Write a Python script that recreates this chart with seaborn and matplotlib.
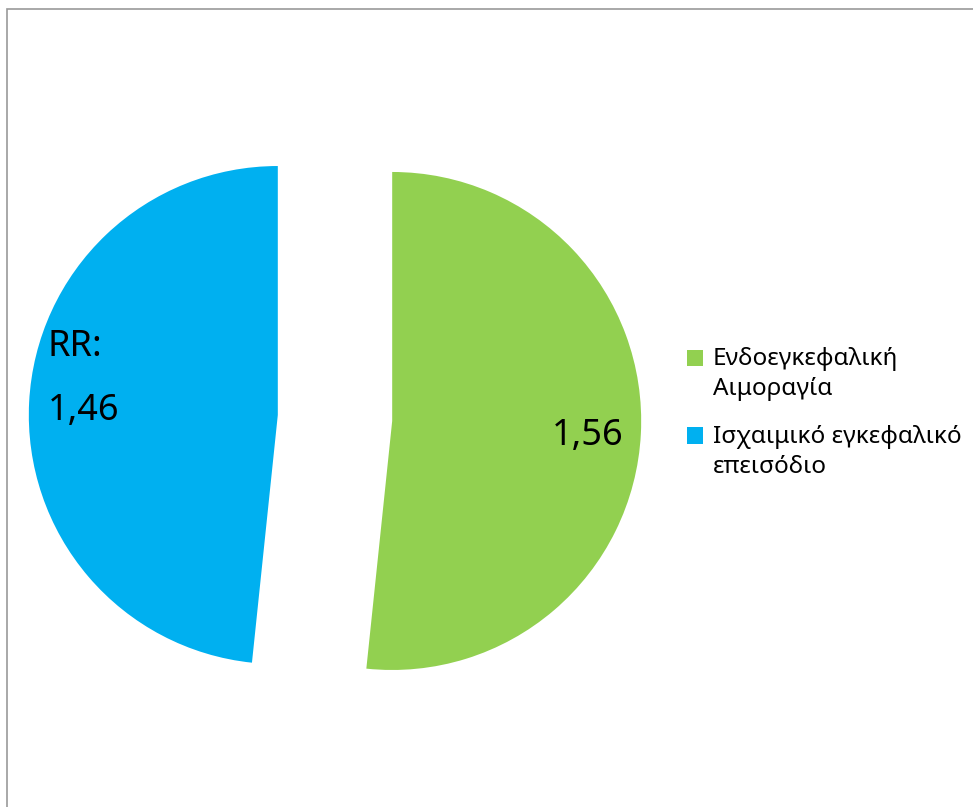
import matplotlib
matplotlib.use("Agg")
import matplotlib.pyplot as plt
from matplotlib.patches import Patch, Rectangle
from matplotlib.legend_handler import HandlerPatch
import seaborn as sns

# data
categories = ["Ενδοεγκεφαλική\nΑιμοραγία", "Ισχαιμικό εγκεφαλικό\nεπεισόδιο"]
rr_values = [1.56, 1.46]
colors = ["#92D050", "#00B0F0"]

sns.set_theme(style="white")
plt.rcParams["font.family"] = ["Noto Sans", "DejaVu Sans"]

fig = plt.figure(figsize=(9.73, 8.07), dpi=100)
ax = fig.add_axes([0, 0, 1, 1])

wedges, _ = ax.pie(rr_values, colors=colors, startangle=90, counterclock=False,
                   explode=[0.23, 0.23], radius=1, wedgeprops=dict(linewidth=0))

# pixel scale: 1 data unit ~ 249 px, pie center at (335, 418) px
ax.set_xlim(-335 / 249, (973 - 335) / 249)
ax.set_ylim(-(807 - 418) / 249, 418 / 249)
ax.set_aspect("auto")
ax.axis("off")

def fmt(v):
    return f"{v:.2f}".replace(".", ",")

ax.text(0.871, -0.108, fmt(rr_values[0]), fontsize=26, ha="left", va="baseline", color="black")
ax.text(-1.153, 0.249, "RR:", fontsize=26, ha="left", va="baseline", color="black")
ax.text(-1.153, -0.008, fmt(rr_values[1]), fontsize=26, ha="left", va="baseline", color="black")

# legend squares sit next to the first line of each label
def top_square(legend, orig_handle, xdescent, ydescent, width, height, fontsize):
    return Rectangle((-xdescent, -ydescent + 0.68 * fontsize), width, height)

handles = [Patch(facecolor=c, edgecolor="none") for c in colors]
leg = fig.legend(handles, categories, loc="upper left", bbox_to_anchor=(675 / 973, 1 - 335 / 807),
                 frameon=False, fontsize=17.5, handlelength=0.66, handleheight=0.66,
                 handletextpad=0.4, labelspacing=0.95, borderpad=0, labelcolor="black",
                 handler_map={Patch: HandlerPatch(patch_func=top_square)})
for t in leg.get_texts():
    t.set_linespacing(1.35)

# outer frame
fig.patches.append(Rectangle((7 / 973, -0.1), 1.2, 1 - 9 / 807 + 0.1, transform=fig.transFigure,
                             fill=False, edgecolor="#999999", linewidth=1.2))

fig.savefig("out.png", dpi=100)
